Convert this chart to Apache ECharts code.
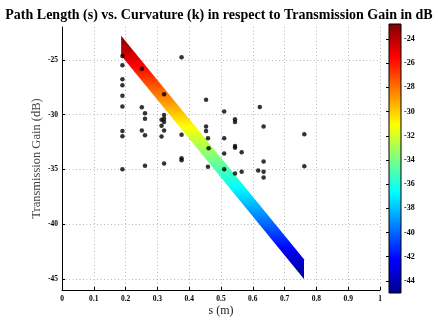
<!DOCTYPE html>
<html><head><meta charset="utf-8">
<script src="https://cdn.jsdelivr.net/npm/echarts@6/dist/echarts.min.js"></script>
<style>html,body{margin:0;padding:0;background:#fff}#c{width:438px;height:322px}</style>
</head><body><div id="c"></div>
<script>
const titleText = 'Path Length (s) vs. Curvature (k) in respect to Transmission Gain in dB';
const xTicks = [0, 0.1, 0.2, 0.3, 0.4, 0.5, 0.6, 0.7, 0.8, 0.9, 1];
const yTicks = [-45, -40, -35, -30, -25];
const cbTicks = [-44, -42, -40, -38, -36, -34, -32, -30, -28, -26, -24];
const cbMin = -45, cbMax = -22.76;
// band (surface) corners
const bandS = [0.186, 0.761];
const bandTop = [-22.8, -43.2];
const bandBottom = [-24.6, -45.0];
// scatter points
const pointS = [
  0.19, 0.19, 0.19, 0.19, 0.19, 0.19, 0.19, 0.19, 0.19,
  0.251, 0.251, 0.251,
  0.261, 0.261, 0.261, 0.261,
  0.313, 0.313, 0.313,
  0.321, 0.321, 0.321, 0.321, 0.321, 0.321,
  0.376, 0.376, 0.376, 0.376,
  0.453, 0.453, 0.453,
  0.459, 0.459, 0.461,
  0.51, 0.51, 0.51, 0.51,
  0.544, 0.544, 0.544, 0.544, 0.544,
  0.565, 0.565,
  0.617, 0.622,
  0.634, 0.634, 0.634, 0.634,
  0.762, 0.762
];
const pointGain = [
  -24.64, -25.49, -26.76, -27.31, -28.28, -29.26, -31.5, -31.96, -34.98,
  -25.82, -29.32, -31.45,
  -29.87, -30.38, -31.87, -34.67,
  -30.47, -31.0, -32.0,
  -28.13, -30.02, -30.38, -30.68, -31.45, -34.46,
  -24.75, -31.84, -33.97, -34.15,
  -28.65, -31.08, -31.5,
  -32.15, -34.76, -33.06,
  -29.71, -32.15, -33.55, -34.98,
  -30.41, -30.66, -32.85, -33.03, -35.37,
  -33.42, -35.22,
  -35.1, -29.29,
  -31.08, -34.28, -35.22, -35.74,
  -31.78, -34.7
];

const jetStops = [
  {offset: 0, color: '#800000'},
  {offset: 0.125, color: '#ff0000'},
  {offset: 0.375, color: '#ffff00'},
  {offset: 0.625, color: '#00ffff'},
  {offset: 0.875, color: '#0000ff'},
  {offset: 1, color: '#00008f'}
];
const serif = '"Liberation Serif", "DejaVu Serif", serif';
const lblStyle = {fontFamily: serif, fontWeight: 'bold', fontSize: 7.5, color: '#000'};

const chart = echarts.init(document.getElementById('c'), null, {renderer: 'canvas'});
chart.setOption({
  animation: false,
  backgroundColor: '#fff',
  title: {
    text: titleText, left: 'center', top: 3,
    textStyle: {fontFamily: serif, fontWeight: 'bold', fontSize: 14, color: '#000'}
  },
  grid: [
    {left: 62, right: 58, top: 27, bottom: 32, containLabel: false},
    {left: 389, width: 12, top: 24, height: 269, containLabel: false}
  ],
  xAxis: [
    {
      type: 'value', gridIndex: 0, min: 0, max: 1, interval: 0.1,
      name: 's (m)', nameLocation: 'middle', nameGap: 15, nameMoveOverlap: false,
      nameTextStyle: {fontFamily: serif, fontSize: 12, color: '#222'},
      axisLine: {show: true, onZero: false, lineStyle: {color: '#000', width: 1}},
      axisTick: {show: true, inside: true, length: 3, lineStyle: {color: '#000'}},
      axisLabel: Object.assign({margin: 5}, lblStyle),
      splitLine: {show: true, lineStyle: {color: '#b8b8b8', type: [1, 2.5], width: 1}}
    },
    {type: 'value', gridIndex: 1, min: 0, max: 1, show: false}
  ],
  yAxis: [
    {
      type: 'value', gridIndex: 0, min: -46, max: -22,
      name: 'Transmission Gain (dB)', nameLocation: 'middle', nameGap: 19, nameMoveOverlap: false,
      nameTextStyle: {fontFamily: serif, fontSize: 12.5, color: '#444'},
      axisLine: {show: true, onZero: false, lineStyle: {color: '#000', width: 1}},
      axisTick: {show: true, inside: true, length: 3, customValues: yTicks, lineStyle: {color: '#000'}},
      axisLabel: Object.assign({margin: 4, customValues: yTicks}, lblStyle),
      splitLine: {show: true, lineStyle: {color: '#b8b8b8', type: [1, 2.5], width: 1}}
    },
    {
      type: 'value', gridIndex: 1, min: cbMin, max: cbMax, position: 'right',
      axisLine: {show: false},
      axisTick: {show: true, inside: true, length: 3, customValues: cbTicks, lineStyle: {color: '#000'}},
      axisLabel: Object.assign({margin: 3, customValues: cbTicks}, lblStyle, {fontSize: 8}),
      splitLine: {show: false}
    }
  ],
  series: [
    {
      type: 'custom', xAxisIndex: 0, yAxisIndex: 0, z: 2, silent: true,
      data: [[0]],
      renderItem: function (params, api) {
        const pts = [
          api.coord([bandS[0], bandTop[0]]),
          api.coord([bandS[1], bandTop[1]]),
          api.coord([bandS[1], bandBottom[1]]),
          api.coord([bandS[0], bandBottom[0]])
        ];
        const y1 = api.coord([0, cbMax])[1];
        const y2 = api.coord([0, cbMin])[1];
        return {
          type: 'polygon',
          shape: {points: pts},
          style: {
            fill: {type: 'linear', x: 0, y: y1, x2: 0, y2: y2, global: true, colorStops: jetStops},
            stroke: null
          }
        };
      }
    },
    {
      type: 'scatter', xAxisIndex: 0, yAxisIndex: 0, z: 3,
      symbol: 'circle', symbolSize: 4.5,
      itemStyle: {color: '#000'},
      data: pointS.map((s, i) => [s, pointGain[i]])
    },
    {
      type: 'custom', xAxisIndex: 1, yAxisIndex: 1, z: 2, silent: true,
      data: [[0]],
      renderItem: function (params, api) {
        const p1 = api.coord([0, cbMax]);
        const p2 = api.coord([1, cbMin]);
        return {
          type: 'rect',
          shape: {x: p1[0], y: p1[1], width: p2[0] - p1[0], height: p2[1] - p1[1]},
          style: {
            fill: {type: 'linear', x: 0, y: 0, x2: 0, y2: 1, colorStops: jetStops},
            stroke: '#000', lineWidth: 1
          }
        };
      }
    }
  ]
});
</script>
</body></html>
